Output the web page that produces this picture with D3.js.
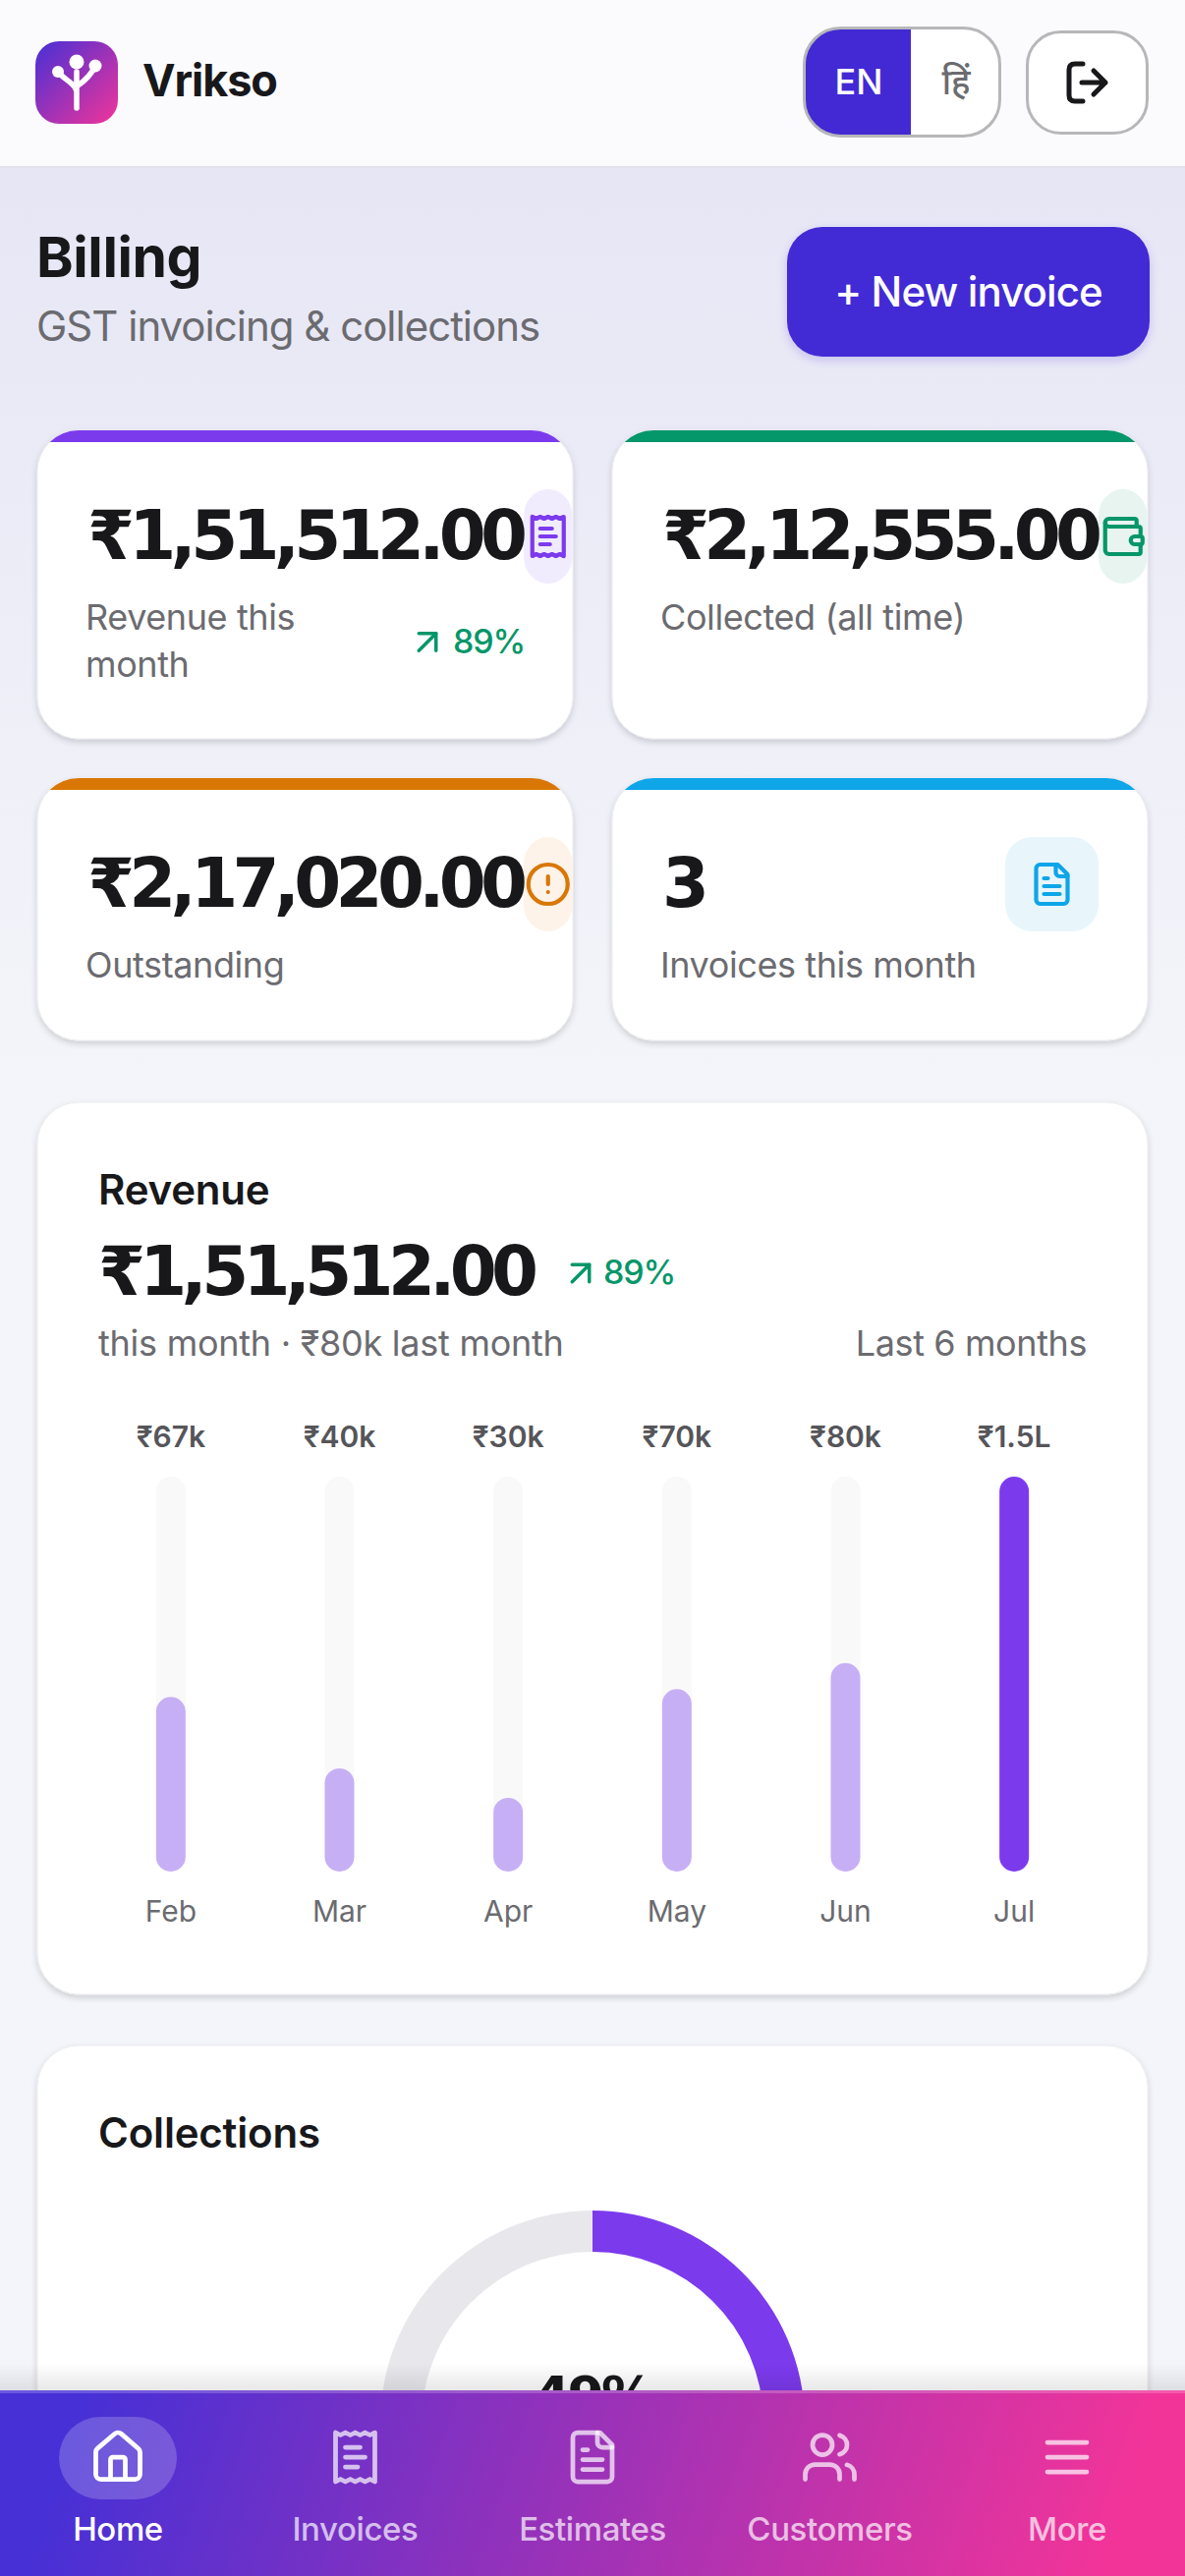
<!DOCTYPE html>
<html>
<head>
<meta charset="utf-8">
<title>Vrikso Billing</title>
<script src="https://cdn.jsdelivr.net/npm/d3@7"></script>
<style>
  html, body { margin: 0; padding: 0; background: #f4f5fa; overflow: hidden; }
  svg { display: block; font-family: Inter, "Noto Sans", sans-serif; }
  .amount { font-family: "DejaVu Sans", sans-serif; }
</style>
</head>
<body>
<div id="chart"></div>
<script>
// chart values
const months = ['Feb', 'Mar', 'Apr', 'May', 'Jun', 'Jul'];
const revenue = [67000, 39600, 28300, 70000, 80000, 151512];
const revenueLabels = ['₹67k', '₹40k', '₹30k', '₹70k', '₹80k', '₹1.5L'];

const statValues = ['₹1,51,512.00', '₹2,12,555.00', '₹2,17,020.00', '3'];
const statLabels = [['Revenue this', 'month'], ['Collected (all time)'], ['Outstanding'], ['Invoices this month']];
const statColors = ['#7c3aed', '#059669', '#d97706', '#0ea5e9'];
const statTints = ['#f1ecfd', '#e7f4ef', '#fdf3e9', '#e8f6fc'];

const collections = [212555, 217020];
const collectionsLabel = '49%';

const navLabels = ['Home', 'Invoices', 'Estimates', 'Customers', 'More'];

// lucide style icons, 24 unit box
const icons = {
  home: ['M15 21v-8a1 1 0 0 0-1-1h-4a1 1 0 0 0-1 1v8', 'M3 10a2 2 0 0 1 .709-1.528l7-5.999a2 2 0 0 1 2.582 0l7 5.999A2 2 0 0 1 21 10v9a2 2 0 0 1-2 2H5a2 2 0 0 1-2-2z'],
  receipt: ['M4 2v20l2-1 2 1 2-1 2 1 2-1 2 1 2-1 2 1V2l-2 1-2-1-2 1-2-1-2 1-2-1-2 1Z', 'M14 8H8', 'M16 12H8', 'M13 16H8'],
  file: ['M15 2H6a2 2 0 0 0-2 2v16a2 2 0 0 0 2 2h12a2 2 0 0 0 2-2V7Z', 'M14 2v4a2 2 0 0 0 2 2h4', 'M10 9H8', 'M16 13H8', 'M16 17H8'],
  users: ['M16 21v-2a4 4 0 0 0-4-4H6a4 4 0 0 0-4 4v2', 'M13 7a4 4 0 1 1-8 0a4 4 0 1 1 8 0', 'M22 21v-2a4 4 0 0 0-3-3.87', 'M16 3.13a4 4 0 0 1 0 7.75'],
  menu: ['M4 6h16', 'M4 12h16', 'M4 18h16'],
  wallet: ['M19 7V4a1 1 0 0 0-1-1H5a2 2 0 0 0 0 4h15a1 1 0 0 1 1 1v4h-3a2 2 0 0 0 0 4h3a1 1 0 0 0 1-1v-2a1 1 0 0 0-1-1', 'M3 5v14a2 2 0 0 0 2 2h15a1 1 0 0 0 1-1v-4'],
  alert: ['M22 12a10 10 0 1 1-20 0a10 10 0 1 1 20 0', 'M12 8v4', 'M12 16h.01'],
  arrow: ['M7 7h10v10', 'M7 17 17 7']
};
const navIcons = ['home', 'receipt', 'file', 'users', 'menu'];
const statIcons = ['receipt', 'wallet', 'alert', 'file'];

const svg = d3.select('#chart').append('svg')
  .attr('width', 1206)
  .attr('height', 2622)
  .attr('viewBox', '0 0 1206 2622');

const defs = svg.append('defs');

function gradient(id, x1, y1, x2, y2, stops, units) {
  const g = defs.append('linearGradient').attr('id', id)
    .attr('x1', x1).attr('y1', y1).attr('x2', x2).attr('y2', y2);
  if (units) g.attr('gradientUnits', units);
  stops.forEach(s => g.append('stop').attr('offset', s[0]).attr('stop-color', s[1]).attr('stop-opacity', s[2] === undefined ? 1 : s[2]));
}
gradient('pageBg', 0, 170, 0, 1100, [[0, '#e6e6f5'], [1, '#f4f5fa']], 'userSpaceOnUse');
gradient('logoBg', 36, 42, 120, 126, [[0, '#4630d6'], [1, '#f23499']], 'userSpaceOnUse');
gradient('navBg', 0, 2325, 1206, 2730, [[0.09, '#4630d6'], [0.91, '#f23499']], 'userSpaceOnUse');
gradient('navFade', 0, 0, 0, 1, [[0, '#000', 0], [1, '#000', 0.09]]);

const cardShadow = defs.append('filter').attr('id', 'cardShadow')
  .attr('x', '-5%').attr('y', '-5%').attr('width', '110%').attr('height', '112%');
cardShadow.append('feDropShadow').attr('dx', 0).attr('dy', 3).attr('stdDeviation', 3)
  .attr('flood-color', '#000').attr('flood-opacity', 0.16);

const btnShadow = defs.append('filter').attr('id', 'btnShadow')
  .attr('x', '-10%').attr('y', '-10%').attr('width', '120%').attr('height', '130%');
btnShadow.append('feDropShadow').attr('dx', 0).attr('dy', 4).attr('stdDeviation', 5)
  .attr('flood-color', '#4229d4').attr('flood-opacity', 0.2);

function addText(parent, str, x, y, size, weight, fill, anchor, spacing) {
  return parent.append('text')
    .attr('x', x).attr('y', y)
    .attr('font-size', size).attr('font-weight', weight)
    .attr('fill', fill)
    .attr('text-anchor', anchor || 'start')
    .attr('letter-spacing', spacing || 0)
    .text(str);
}

function addAmount(parent, str, x, y) {
  return addText(parent, str, x, y, 69, 700, '#18181b', 'start', -5.7).attr('class', 'amount');
}

function addIcon(parent, name, cx, cy, scale, color, width, opacity) {
  const g = parent.append('g')
    .attr('transform', `translate(${cx - 12 * scale},${cy - 12 * scale}) scale(${scale})`)
    .attr('fill', 'none')
    .attr('stroke', color)
    .attr('stroke-width', width)
    .attr('stroke-linecap', 'round')
    .attr('stroke-linejoin', 'round');
  g.selectAll('path').data(icons[name]).enter().append('path')
    .attr('d', d => d)
    .attr('stroke-opacity', opacity === undefined ? 1 : opacity);
  return g;
}

// page + header
svg.append('rect').attr('width', 1206).attr('height', 2622).attr('fill', 'url(#pageBg)');
svg.append('rect').attr('width', 1206).attr('height', 170).attr('fill', '#fbfbfe');
svg.append('rect').attr('y', 169).attr('width', 1206).attr('height', 2).attr('fill', '#e2e2ee');

const logo = svg.append('g');
logo.append('rect').attr('x', 36).attr('y', 42).attr('width', 84).attr('height', 84).attr('rx', 24).attr('fill', 'url(#logoBg)');
logo.append('path')
  .attr('d', 'M78 73V110M78 93C76 84 66 82 59 73M78 88C84 84 92 78 97 67')
  .attr('fill', 'none').attr('stroke', '#fff').attr('stroke-width', 5.5).attr('stroke-linecap', 'round');
logo.append('circle').attr('cx', 78).attr('cy', 63).attr('r', 7.5).attr('fill', '#fff');
logo.append('circle').attr('cx', 59).attr('cy', 73).attr('r', 6).attr('fill', '#fff');
logo.append('circle').attr('cx', 97).attr('cy', 67).attr('r', 6.5).attr('fill', '#fff');
addText(svg, 'Vrikso', 145, 98, 45, 700, '#18181b', 'start', -1.1);

defs.append('clipPath').attr('id', 'langClip').append('rect')
  .attr('x', 818.5).attr('y', 28.5).attr('width', 199).attr('height', 110).attr('rx', 37);
svg.append('rect').attr('x', 818.5).attr('y', 28.5).attr('width', 199).attr('height', 110).attr('rx', 37).attr('fill', '#fff');
svg.append('rect').attr('x', 818.5).attr('y', 28.5).attr('width', 108.5).attr('height', 110).attr('fill', '#4229d4').attr('clip-path', 'url(#langClip)');
svg.append('rect').attr('x', 818.5).attr('y', 28.5).attr('width', 199).attr('height', 110).attr('rx', 37).attr('fill', 'none').attr('stroke', '#b7b7ba').attr('stroke-width', 3);
addText(svg, 'EN', 874, 96, 36, 500, '#fff', 'middle');
addText(svg, 'हिं', 973, 96, 36, 500, '#6b6b70', 'middle');

svg.append('rect').attr('x', 1045.5).attr('y', 32.5).attr('width', 122).attr('height', 103).attr('rx', 34).attr('fill', '#fff').attr('stroke', '#b7b7ba').attr('stroke-width', 3);
svg.append('path').attr('d', 'M1102 65H1094Q1088 65 1088 71V97Q1088 103 1094 103H1102M1101 84H1125M1113 72L1125 84L1113 96')
  .attr('fill', 'none').attr('stroke', '#18181b').attr('stroke-width', 5).attr('stroke-linecap', 'round').attr('stroke-linejoin', 'round');

// title row
addText(svg, 'Billing', 37, 282, 57, 700, '#18181b', 'start', -0.4);
addText(svg, 'GST invoicing & collections', 37, 347, 42, 400, '#6b6b70', 'start', -1);
svg.append('rect').attr('x', 801).attr('y', 231).attr('width', 369).attr('height', 132).attr('rx', 36).attr('fill', '#4229d4').attr('filter', 'url(#btnShadow)');
addText(svg, '+ New invoice', 985.5, 312, 42, 500, '#fff', 'middle', -0.9);

// stat cards
const cardX = [38, 623, 38, 623];
const cardY = [438, 438, 792, 792];
const cardH = [314, 314, 267, 267];
const cardW = 545;

statValues.forEach((val, i) => {
  const g = svg.append('g').attr('transform', `translate(${cardX[i]},${cardY[i]})`);
  const clipId = 'statClip' + i;
  defs.append('clipPath').attr('id', clipId).append('rect')
    .attr('width', cardW).attr('height', cardH[i]).attr('rx', 42);
  g.append('rect').attr('width', cardW).attr('height', cardH[i]).attr('rx', 42).attr('fill', '#fff').attr('stroke', '#ececf0').attr('filter', 'url(#cardShadow)');
  g.append('rect').attr('width', cardW).attr('height', 12).attr('fill', statColors[i]).attr('clip-path', `url(#${clipId})`);

  // badge gets squeezed by the long amounts
  const squeezed = i < 3;
  const bx = squeezed ? 495 : 400;
  const bw = squeezed ? 49.5 : 95;
  const by = 60;
  g.append('rect').attr('x', bx).attr('y', by).attr('width', bw).attr('height', 96)
    .attr('rx', squeezed ? 24.7 : 27).attr('ry', 27).attr('fill', statTints[i]);
  addIcon(g, statIcons[i], bx + bw / 2, by + 48, 2, statColors[i], 2.1);

  addAmount(g, val, 51, 131);
  statLabels[i].forEach((line, k) => {
    addText(g, line, 49, 203 + k * 48, 36, 400, '#6b6b70', 'start', -0.4);
  });
});
addIcon(svg, 'arrow', 435, 653.5, 1.75, '#059669', 2);
addText(svg, '89%', 534, 665, 34, 500, '#059669', 'end', -1.2);

// revenue card
const rev = svg.append('g');
rev.append('rect').attr('x', 38).attr('y', 1122).attr('width', 1130).attr('height', 908).attr('rx', 42).attr('fill', '#fff').attr('stroke', '#ececf0').attr('filter', 'url(#cardShadow)');
addText(rev, 'Revenue', 100, 1226, 42, 600, '#18181b', 'start', -0.2);
addAmount(rev, statValues[0], 100, 1318);
addIcon(rev, 'arrow', 591, 1296, 1.75, '#059669', 2);
addText(rev, '89%', 687, 1307, 34, 500, '#059669', 'end', -1.2);
addText(rev, 'this month · ₹80k last month', 100, 1380, 36, 400, '#6b6b70', 'start', -0.25);
addText(rev, 'Last 6 months', 1106, 1380, 36, 400, '#6b6b70', 'end', -0.4);

const barWidth = 30;
const x = d3.scaleBand().domain(months).range([88, 1118]);
const y = d3.scaleLinear().domain([0, d3.max(revenue)]).range([1905, 1503]);
const barCenter = m => x(m) + x.bandwidth() / 2;

rev.selectAll('.track').data(months).enter().append('rect')
  .attr('class', 'track')
  .attr('x', d => barCenter(d) - barWidth / 2)
  .attr('y', y(d3.max(revenue)))
  .attr('width', barWidth)
  .attr('height', y(0) - y(d3.max(revenue)))
  .attr('rx', barWidth / 2)
  .attr('fill', '#f9f9fa');

rev.selectAll('.bar').data(revenue).enter().append('rect')
  .attr('class', 'bar')
  .attr('x', (d, i) => barCenter(months[i]) - barWidth / 2)
  .attr('y', d => y(d))
  .attr('width', barWidth)
  .attr('height', d => y(0) - y(d))
  .attr('rx', barWidth / 2)
  .attr('fill', (d, i) => i === months.length - 1 ? '#7c3aed' : '#c7aff5');

rev.selectAll('.barLabel').data(revenueLabels).enter().append('text')
  .attr('class', 'barLabel')
  .attr('x', (d, i) => barCenter(months[i]))
  .attr('y', 1473)
  .attr('text-anchor', 'middle')
  .attr('font-size', 30)
  .attr('font-weight', 600)
  .attr('fill', '#55555a')
  .text(d => d);

const xAxis = rev.append('g')
  .attr('transform', `translate(0,${y(0)})`)
  .call(d3.axisBottom(x).tickSize(0));
xAxis.select('.domain').remove();
xAxis.selectAll('text')
  .attr('y', 51).attr('dy', 0)
  .attr('font-family', 'Inter')
  .attr('font-size', 30)
  .attr('fill', '#6b6b70');

// collections card, runs under the nav
const coll = svg.append('g');
coll.append('rect').attr('x', 38).attr('y', 2082).attr('width', 1130).attr('height', 700).attr('rx', 42).attr('fill', '#fff').attr('stroke', '#ececf0').attr('filter', 'url(#cardShadow)');
addText(coll, 'Collections', 100, 2186, 42, 600, '#18181b', 'start', -0.2);

const donut = coll.append('g').attr('transform', 'translate(603,2466)');
const arc = d3.arc().innerRadius(174).outerRadius(216);
const pie = d3.pie().sort(null);
donut.selectAll('path').data(pie(collections)).enter().append('path')
  .attr('d', arc)
  .attr('fill', (d, i) => i === 0 ? '#7c3aed' : '#e8e8ec');
addText(donut, collectionsLabel, 0, -9, 54, 700, '#18181b', 'middle', -3).attr('class', 'amount');

// nav
svg.append('rect').attr('y', 2405).attr('width', 1206).attr('height', 28).attr('fill', 'url(#navFade)');
svg.append('rect').attr('y', 2433).attr('width', 1206).attr('height', 189).attr('fill', 'url(#navBg)');
svg.append('rect').attr('y', 2433).attr('width', 1206).attr('height', 3).attr('fill', '#fff').attr('fill-opacity', 0.2);
svg.append('rect').attr('x', 60).attr('y', 2460).attr('width', 120).attr('height', 84).attr('rx', 42).attr('fill', '#fff').attr('fill-opacity', 0.2);

const navX = d3.scalePoint().domain(navLabels).range([120, 1086]);
navLabels.forEach((label, i) => {
  const active = i === 0;
  addIcon(svg, navIcons[i], navX(label), 2501, 2.5, '#fff', 1.9, active ? 1 : 0.7);
  addText(svg, label, navX(label), 2586, 33, 500, '#fff', 'middle', -0.4).attr('fill-opacity', active ? 1 : 0.7);
});
</script>
</body>
</html>
